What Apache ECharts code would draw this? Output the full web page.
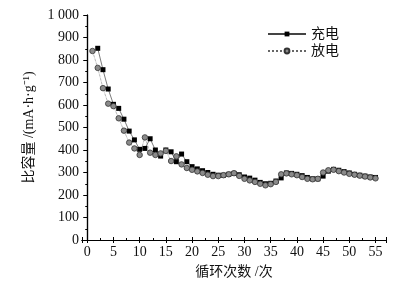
<!DOCTYPE html>
<html>
<head>
<meta charset="utf-8">
<script src="https://cdn.jsdelivr.net/npm/echarts@6/dist/echarts.min.js"></script>
<style>
  html, body { margin: 0; padding: 0; background: #fff; }
  #chart { width: 398px; height: 286px; }
</style>
</head>
<body>
<div id="chart"></div>
<script>
// 循环次数
const chargeCycles = [2,3,4,5,6,7,8,9,10,11,12,13,14,15,16,17,18,19,20,21,22,23,24,25,26,27,28,29,30,31,32,33,34,35,36,37,38,39,40,41,42,43,44,45,46,47,48,49,50,51,52,53,54,55];
const dischargeCycles = [1,2,3,4,5,6,7,8,9,10,11,12,13,14,15,16,17,18,19,20,21,22,23,24,25,26,27,28,29,30,31,32,33,34,35,36,37,38,39,40,41,42,43,44,45,46,47,48,49,50,51,52,53,54,55];
// 比容量 mA·h/g
const chargeValues = [852,757,671,603,585,537,484,445,403,407,450,400,373,400,392,348,382,348,326,316,308,300,292,288,288,292,296,290,280,275,266,256,250,252,262,276,298,296,292,286,278,272,272,284,306,314,310,304,298,292,288,284,280,278];
const dischargeValues = [840,765,675,606,595,541,486,433,407,378,456,388,378,385,396,351,372,336,320,312,305,298,290,284,284,288,292,297,285,272,265,258,250,243,248,258,292,296,292,288,280,272,270,272,300,310,312,306,300,294,290,286,282,278,274];
const yTicks = [0,100,200,300,400,500,600,700,800,900,1000];

const chart = echarts.init(document.getElementById('chart'));
const font = '"Liberation Serif", "Noto Sans CJK SC", serif';
const zip = (xs, ys) => xs.map((x, i) => [x, ys[i]]);

const option = {
  animation: false,
  grid: { left: 82, right: 12, top: 15, bottom: 46 },
  legend: {
    orient: 'vertical',
    left: 262,
    top: 22,
    itemWidth: 38,
    itemHeight: 6,
    itemGap: 3,
    textStyle: { fontFamily: font, fontSize: 14, color: '#111' },
    data: ['充电', '放电']
  },
  xAxis: [{
    type: 'value',
    min: -1,
    max: 57,
    splitNumber: 12,
    name: '循环次数 /次',
    nameLocation: 'middle',
    nameGap: 25,
    nameTextStyle: { fontFamily: font, fontSize: 14, color: '#111' },
    axisLine: { lineStyle: { color: '#000', width: 1.2 } },
    axisTick: { inside: true, length: 3, lineStyle: { color: '#000' } },
    minorTick: { show: true, splitNumber: 2, length: 2, lineStyle: { color: '#000' } },
    axisLabel: {
      fontFamily: font, fontSize: 14, color: '#111', margin: 5,
      formatter: v => (v % 5 === 0 && v >= 0 && v <= 55) ? String(v) : ''
    },
    splitLine: { show: false }
  }, {
    type: 'value',
    position: 'top',
    min: -1,
    max: 57,
    splitNumber: 12,
    axisLine: { lineStyle: { color: '#000', width: 1.2 } },
    axisTick: { inside: true, length: 3, lineStyle: { color: '#000' } },
    axisLabel: { show: false },
    splitLine: { show: false }
  }],
  yAxis: [{
    type: 'value',
    min: 0,
    max: 1000,
    interval: 100,
    name: '比容量 /(mA·h·g⁻¹)',
    nameLocation: 'middle',
    nameRotate: 90,
    nameGap: 40,
    nameTextStyle: { fontFamily: font, fontSize: 14, color: '#111' },
    axisLine: { show: true, lineStyle: { color: '#000', width: 1.2 } },
    axisTick: { show: true, length: 4, lineStyle: { color: '#000' } },
    minorTick: { show: true, splitNumber: 2, length: 2, lineStyle: { color: '#000' } },
    axisLabel: {
      fontFamily: font, fontSize: 14, color: '#111', margin: 3,
      formatter: v => yTicks.includes(v) ? (v === 1000 ? '1 000' : String(v)) : ''
    },
    splitLine: { show: false }
  }, {
    type: 'value',
    position: 'right',
    min: 0,
    max: 1000,
    interval: 100,
    axisLine: { show: true, lineStyle: { color: '#000', width: 1.2 } },
    axisTick: { show: true, inside: true, length: 3, lineStyle: { color: '#000' } },
    axisLabel: { show: false },
    splitLine: { show: false }
  }],
  series: [{
    name: '充电',
    type: 'line',
    data: zip(chargeCycles, chargeValues),
    symbol: 'rect',
    symbolSize: 5,
    itemStyle: { color: '#000' },
    lineStyle: { color: '#444', width: 0.7, type: 'solid' }
  }, {
    name: '放电',
    type: 'line',
    data: zip(dischargeCycles, dischargeValues),
    symbol: 'circle',
    symbolSize: 5.5,
    itemStyle: { color: '#8a8a8a', borderColor: '#333', borderWidth: 0.8 },
    lineStyle: { color: '#666', width: 0.7, type: 'dotted' }
  }]
};
chart.setOption(option);
</script>
</body>
</html>
